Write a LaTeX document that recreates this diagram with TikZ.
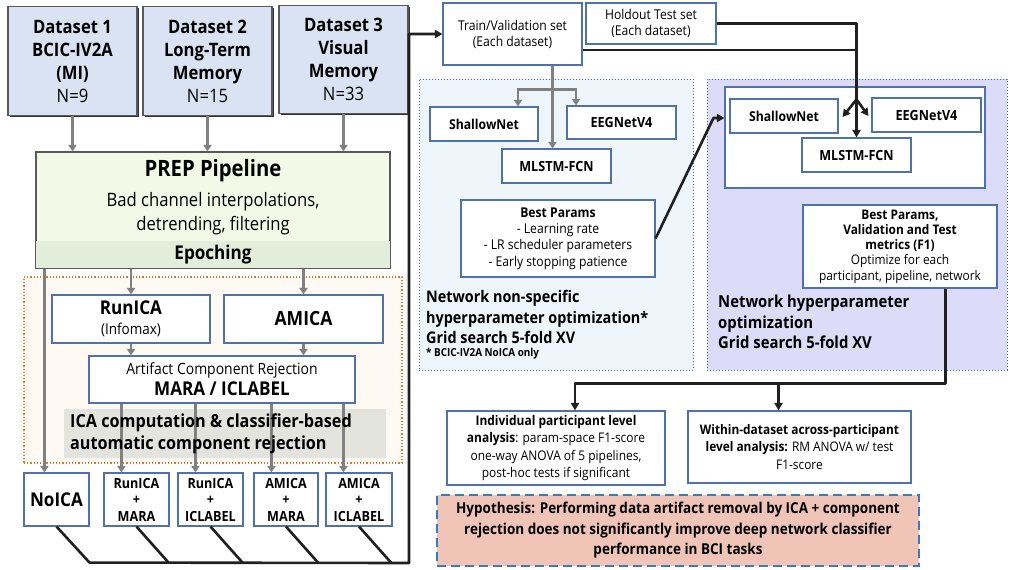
\documentclass[tikz,border=0pt]{standalone}
\usepackage{fontspec}
\setmainfont{Open Sans}[FakeStretch=0.9]
\usetikzlibrary{arrows.meta,shadows,calc}

\definecolor{dsfill}{HTML}{DAE3F3}
\definecolor{dsline}{HTML}{595959}
\definecolor{prepfill}{HTML}{F2F9E6}
\definecolor{epfill}{HTML}{E2EDDA}
\definecolor{orgline}{HTML}{E87722}
\definecolor{orgfill}{HTML}{FEF9F2}
\definecolor{bline}{HTML}{4F72AE}
\definecolor{icagray}{HTML}{E4E4DF}
\definecolor{lpfill}{HTML}{EEF5FB}
\definecolor{rpfill}{HTML}{DCDCF8}
\definecolor{pline}{HTML}{3F63AE}
\definecolor{hypofill}{HTML}{F1C4B8}
\definecolor{hypoline}{HTML}{3A7BC0}
\definecolor{garr}{HTML}{808080}
\definecolor{kcol}{HTML}{202020}

\newcommand\fsz[2]{\fontsize{#1pt}{#2pt}\selectfont}

\tikzset{
  ds/.style={draw=dsline, line width=1.1pt, fill=dsfill, align=center, inner sep=0pt,
    drop shadow={shadow xshift=1.6pt, shadow yshift=-1.6pt, fill=black!80, opacity=1},
    font=\fsz{18.5}{23}},
  bbox/.style={draw=bline, line width=1.1pt, fill=white, align=center, inner sep=0pt},
  garrow/.style={draw=garr, line width=2.2pt, -{Triangle[length=6.5pt,width=8pt]}},
  kline/.style={draw=kcol, line width=2.6pt, line join=round},
  karrow/.style={kline, -{Triangle[length=7.5pt,width=8pt]}},
  panel/.style={draw=pline, line width=1pt, dotted, inner sep=0pt},
  lbl/.style={inner sep=0pt, align=left, anchor=west},
}

\begin{document}
\begin{tikzpicture}[x=1pt,y=-1pt]
\useasboundingbox[fill=white] (0,0) rectangle (1009,570);

% ---------- background panels ----------
\node[panel, fill=lpfill, minimum width=274pt, minimum height=291pt] (lpanel) at (556,224.5) {};
\node[panel, fill=rpfill, minimum width=300pt, minimum height=291pt] (rpanel) at (857,224.5) {};
\node[draw=orgline, line width=1.2pt, dotted, fill=orgfill, inner sep=0pt,
      minimum width=378pt, minimum height=186pt] (icagrp) at (213,370) {};

% ---------- datasets ----------
\node[ds, minimum width=129pt, minimum height=109pt] (d1) at (72.5,61)
  {\textbf{Dataset 1}\\\textbf{BCIC-IV2A}\\\textbf{(MI)}\\N=9};
\node[ds, minimum width=129pt, minimum height=109pt] (d2) at (207.5,61)
  {\textbf{Dataset 2}\\\textbf{Long-Term}\\\textbf{Memory}\\N=15};
\node[ds, minimum width=129pt, minimum height=108pt] (d3) at (343.5,59.5)
  {\textbf{Dataset 3}\\\textbf{Visual}\\\textbf{Memory}\\N=33};

% ---------- PREP pipeline ----------
\node[draw=dsline, line width=1.1pt, fill=prepfill, inner sep=0pt,
      minimum width=354pt, minimum height=116pt] (prep) at (213,210) {};
\fill[epfill] ([xshift=0.6pt,yshift=0.6pt]prep.south west) rectangle ([xshift=-0.6pt,yshift=28pt]prep.south east);
\draw[dsline, line width=1.1pt] (prep.south west) rectangle (prep.north east);
\node[inner sep=0pt, font=\fsz{22.5}{26}\bfseries] (preptitle) at (213,171) {PREP Pipeline};
\node[inner sep=0pt, align=center, font=\fsz{18.5}{24}] (preptext) at (213,214)
  {Bad channel interpolations,\\detrending, filtering};
\node[inner sep=0pt, font=\fsz{19}{22}\bfseries] (epoch) at (213,254.5) {Epoching};

\foreach \d in {d1,d2,d3}
  \draw[garrow] (\d.south) -- (\d.south |- prep.north);

% ---------- ICA stage ----------
\node[bbox, minimum width=158pt, minimum height=48pt, font=\fsz{15}{20}] (runica) at (131,319)
  {{\fsz{19}{20}\bfseries RunICA}\\(Infomax)};
\node[bbox, minimum width=159pt, minimum height=48pt, font=\fsz{19.5}{22}\bfseries] (amica) at (303.5,319) {AMICA};
\node[bbox, minimum width=266pt, minimum height=47pt, font=\fsz{15.5}{21}] (artifact) at (222,379.5)
  {Artifact Component Rejection\\{\fsz{19}{21}\bfseries MARA / ICLABEL}};

\node[bbox, minimum width=65pt, minimum height=53pt, font=\fsz{19}{22}\bfseries] (noica) at (56.5,499.5) {NoICA};
\node[bbox, minimum width=65pt, minimum height=53pt, font=\fsz{14}{16.5}\bfseries] (rm) at (136.5,499.5) {RunICA\\+\\MARA};
\node[bbox, minimum width=65pt, minimum height=53pt, font=\fsz{14}{16.5}\bfseries] (ri) at (210.5,499.5) {RunICA\\+\\ICLABEL};
\node[bbox, minimum width=64pt, minimum height=53pt, font=\fsz{14}{16.5}\bfseries] (am) at (286,499.5) {AMICA\\+\\MARA};
\node[bbox, minimum width=66pt, minimum height=53pt, font=\fsz{14}{16.5}\bfseries] (ai) at (359,499.5) {AMICA\\+\\ICLABEL};

\node[fill=icagray, inner sep=0pt, minimum width=322pt, minimum height=49pt] (icabox) at (225,433.5) {};

\draw[garrow] ([xshift=21pt]noica.north west |- prep.south) -- ([xshift=21pt]noica.north west);
\draw[garrow] (runica.north |- prep.south) -- (runica.north);
\draw[garrow] (amica.north |- prep.south) -- (amica.north);
\draw[garrow] (runica.south) -- (runica.south |- artifact.north);
\draw[garrow] (amica.south) -- (amica.south |- artifact.north);
\foreach \b in {rm,ri,am,ai}
  \draw[garrow] ([xshift=18pt]\b.north west |- artifact.south) -- ([xshift=18pt]\b.north west);

\node[lbl, font=\fsz{18}{22}\bfseries] (icalbl) at (70,433.5)
  {ICA computation \& classifier-based\\automatic component rejection};

% ---------- data split ----------
\node[bbox, minimum width=139pt, minimum height=62pt, font=\fsz{13.5}{16}] (trainval) at (512.5,34)
  {Train/Validation set\\(Each dataset)};
\node[bbox, minimum width=130pt, minimum height=41pt, font=\fsz{13.5}{16}] (holdout) at (651,23.5)
  {Holdout Test set\\(Each dataset)};

\coordinate (busE) at (409,563);
\draw[karrow] (noica.south) -- ++(33,36) -- (busE) |- (trainval.west);
\foreach \b in {rm,ri,am,ai}
  \draw[kline] (\b.south) -- ++(32,36);

% ---------- network non-specific optimization ----------
\node[bbox, minimum width=108pt, minimum height=34pt, font=\fsz{13.6}{16}\bfseries] (shallow1) at (484,124) {ShallowNet};
\node[bbox, minimum width=109pt, minimum height=33pt, font=\fsz{14}{16}\bfseries] (eeg1) at (621.5,122.5) {EEGNetV4};
\node[bbox, minimum width=109pt, minimum height=34pt, font=\fsz{14}{16}\bfseries] (mlstm1) at (556.5,166) {MLSTM-FCN};
\node[bbox, minimum width=194pt, minimum height=77pt, font=\fsz{13.5}{16.4}] (best1) at (558,238.5)
  {\textbf{Best Params}\\- Learning rate\\- LR scheduler parameters\\- Early stopping patience};

\coordinate (tvdrop) at ([xshift=-4pt]mlstm1.north |- trainval.south);
\coordinate (split1) at ([yshift=-24pt]tvdrop);
\draw[garrow] (tvdrop) -- ([xshift=-4pt]mlstm1.north);
\draw[garrow] (split1) -| ([xshift=34pt]shallow1.north);
\draw[garrow] (split1) -| ([xshift=-45.5pt]eeg1.north);

\node[lbl, font=\fsz{16}{20.5}\bfseries] (lplbl) at (426,317)
  {Network non-specific\\hyperparameter optimization*\\Grid search 5-fold XV};
\node[lbl, font=\fsz{11}{13}\bfseries] (lpnote) at (426,354) {* BCIC-IV2A NoICA only};

% ---------- network hyperparameter optimization ----------
\node[draw=bline, line width=1.1pt, fill=white, inner sep=0pt, minimum width=260pt, minimum height=101pt] (inner) at (855,137.5) {};
\node[bbox, minimum width=108pt, minimum height=34pt, font=\fsz{13.6}{16}\bfseries] (shallow2) at (784,116) {ShallowNet};
\node[bbox, minimum width=109pt, minimum height=34pt, font=\fsz{14}{16}\bfseries] (eeg2) at (926.5,115) {EEGNetV4};
\node[bbox, minimum width=109pt, minimum height=34pt, font=\fsz{14}{16}\bfseries] (mlstm2) at (856.5,155) {MLSTM-FCN};
\node[bbox, minimum width=194pt, minimum height=83pt, font=\fsz{13.2}{15.3}] (best2) at (900,246.5)
  {\textbf{Best Params,}\\\textbf{Validation and Test}\\\textbf{metrics (F1)}\\Optimize for each\\participant, pipeline, network};

\node[lbl, font=\fsz{16.5}{20.5}\bfseries] (rplbl) at (718,322)
  {Network hyperparameter\\optimization\\Grid search 5-fold XV};

\coordinate (tvout) at ([yshift=-16pt]trainval.east);
\coordinate (fork) at ([yshift=38pt]mlstm2.north);
\draw[kline] (tvout) -- (tvout -| mlstm2.north);
\draw[kline] (holdout.east) -| (fork);
\draw[karrow] (fork) -- (mlstm2.north);
\draw[karrow] (fork) -- ([xshift=4pt,yshift=-1pt]shallow2.east);
\draw[karrow] (fork) -- ([xshift=-3pt,yshift=-1pt]eeg2.west);

\coordinate (inarr) at (inner.west |- shallow2.east);
\draw[karrow] (best1.east) -- ([xshift=-11pt,yshift=-2pt]inarr) -- ([yshift=-2pt]inarr);

% ---------- analyses ----------
\node[bbox, minimum width=218pt, minimum height=74pt, font=\fsz{13.3}{17.5}] (indiv) at (556,448)
  {\textbf{Individual participant level}\\\textbf{analysis}: param-space F1-score\\one-way ANOVA of 5 pipelines,\\post-hoc tests if significant};
\node[bbox, minimum width=223pt, minimum height=72pt, font=\fsz{13.2}{17.8}] (within) at (799.5,447)
  {\textbf{Within-dataset across-participant}\\\textbf{level analysis:} RM ANOVA w/ test\\F1-score};

\coordinate (bsrc) at ([xshift=143pt]best2.south west);
\coordinate (junc) at ([yshift=-95pt]bsrc);
\coordinate (indin) at ([xshift=19pt]indiv.north);
\coordinate (winin) at ([xshift=-21pt]within.north);
\draw[karrow] (bsrc) -- (junc) -| (indin);
\draw[karrow] (winin |- junc) -- (winin);

% ---------- hypothesis ----------
\node[draw=hypoline, line width=2.6pt, dash pattern=on 9pt off 5pt, fill=hypofill, inner sep=0pt,
      minimum width=482pt, minimum height=71pt, align=center, font=\fsz{15}{20.5}\bfseries] (hypo) at (678,530.5)
  {Hypothesis: Performing data artifact removal by ICA + component\\rejection does not significantly improve deep network classifier\\performance in BCI tasks};
\end{tikzpicture}
\end{document}
